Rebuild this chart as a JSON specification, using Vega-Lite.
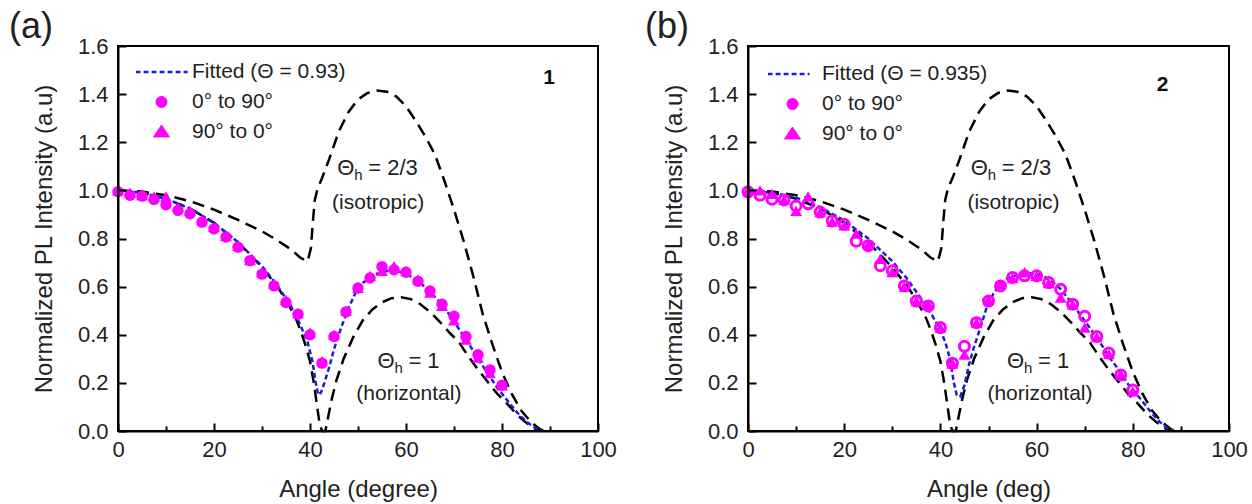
{
  "$schema": "https://vega.github.io/schema/vega-lite/v6.json",
  "padding": {"left": 8, "top": 8, "right": 2, "bottom": 2},
  "spacing": 26,
  "config": {
    "font": "Liberation Sans",
    "view": {"stroke": "black", "strokeWidth": 2},
    "axis": {
      "domain": true, "domainColor": "black", "domainWidth": 2, "ticks": true, "tickColor": "black", "tickWidth": 2,
      "labelFontSize": 22, "labelColor": "#222", "titleFontSize": 24, "titleFontWeight": "normal",
      "titleColor": "#222", "grid": false, "labelFlush": false
    },
    "title": {"fontSize": 36, "fontWeight": "normal", "color": "#222", "anchor": "start", "frame": "group"},
    "legend": {"padding": 0}
  },
  "resolve": {"scale": {"color": "independent"}, "legend": {"color": "independent"}},
  "datasets": {
    "iso": [
      {"angle": 0, "intensity": 1.0}, {"angle": 5, "intensity": 0.995}, {"angle": 10, "intensity": 0.98},
      {"angle": 15, "intensity": 0.955}, {"angle": 20, "intensity": 0.92}, {"angle": 25, "intensity": 0.877},
      {"angle": 30, "intensity": 0.83}, {"angle": 33, "intensity": 0.795}, {"angle": 36, "intensity": 0.755},
      {"angle": 38, "intensity": 0.72}, {"angle": 39.5, "intensity": 0.705}, {"angle": 40.2, "intensity": 0.76},
      {"angle": 40.6, "intensity": 0.87}, {"angle": 41, "intensity": 0.96}, {"angle": 41.6, "intensity": 1.01},
      {"angle": 42.5, "intensity": 1.05}, {"angle": 44, "intensity": 1.13}, {"angle": 46, "intensity": 1.245},
      {"angle": 48, "intensity": 1.325}, {"angle": 50, "intensity": 1.378}, {"angle": 52, "intensity": 1.405},
      {"angle": 54, "intensity": 1.415}, {"angle": 56, "intensity": 1.41}, {"angle": 58, "intensity": 1.39},
      {"angle": 60, "intensity": 1.35}, {"angle": 62, "intensity": 1.29}, {"angle": 64, "intensity": 1.225},
      {"angle": 66, "intensity": 1.15}, {"angle": 68, "intensity": 1.04}, {"angle": 70, "intensity": 0.92},
      {"angle": 72, "intensity": 0.79}, {"angle": 74, "intensity": 0.645}, {"angle": 76, "intensity": 0.485},
      {"angle": 78, "intensity": 0.36}, {"angle": 80, "intensity": 0.245}, {"angle": 82, "intensity": 0.155},
      {"angle": 84, "intensity": 0.085}, {"angle": 86, "intensity": 0.038}, {"angle": 88, "intensity": 0.006},
      {"angle": 89, "intensity": 0}
    ],
    "hor": [
      {"angle": 0, "intensity": 1.0}, {"angle": 5, "intensity": 0.99}, {"angle": 10, "intensity": 0.965},
      {"angle": 15, "intensity": 0.925}, {"angle": 20, "intensity": 0.865}, {"angle": 25, "intensity": 0.785},
      {"angle": 30, "intensity": 0.68}, {"angle": 33, "intensity": 0.605}, {"angle": 35, "intensity": 0.545},
      {"angle": 37, "intensity": 0.47}, {"angle": 38, "intensity": 0.42}, {"angle": 39, "intensity": 0.36},
      {"angle": 40, "intensity": 0.29}, {"angle": 40.8, "intensity": 0.2}, {"angle": 41.5, "intensity": 0.1},
      {"angle": 42, "intensity": 0.03}, {"angle": 42.5, "intensity": 0}, {"angle": 43.2, "intensity": 0},
      {"angle": 43.8, "intensity": 0.06}, {"angle": 44.5, "intensity": 0.13}, {"angle": 45.5, "intensity": 0.21},
      {"angle": 47, "intensity": 0.3}, {"angle": 49, "intensity": 0.39}, {"angle": 51, "intensity": 0.46},
      {"angle": 53, "intensity": 0.505}, {"angle": 55, "intensity": 0.535}, {"angle": 57, "intensity": 0.552},
      {"angle": 59, "intensity": 0.556}, {"angle": 61, "intensity": 0.548}, {"angle": 63, "intensity": 0.527},
      {"angle": 65, "intensity": 0.495}, {"angle": 67, "intensity": 0.455}, {"angle": 69, "intensity": 0.41},
      {"angle": 71, "intensity": 0.37}, {"angle": 73, "intensity": 0.31}, {"angle": 75, "intensity": 0.255},
      {"angle": 77, "intensity": 0.205}, {"angle": 79, "intensity": 0.155}, {"angle": 81, "intensity": 0.115},
      {"angle": 83, "intensity": 0.07}, {"angle": 85, "intensity": 0.035}, {"angle": 87, "intensity": 0.008},
      {"angle": 88.5, "intensity": 0}
    ],
    "fitA": [
      {"angle": 0, "intensity": 1.0}, {"angle": 5, "intensity": 0.99}, {"angle": 10, "intensity": 0.965},
      {"angle": 15, "intensity": 0.925}, {"angle": 20, "intensity": 0.865}, {"angle": 25, "intensity": 0.785},
      {"angle": 30, "intensity": 0.685}, {"angle": 33, "intensity": 0.61}, {"angle": 36, "intensity": 0.52},
      {"angle": 38, "intensity": 0.44}, {"angle": 39.5, "intensity": 0.37}, {"angle": 40.5, "intensity": 0.29},
      {"angle": 41.2, "intensity": 0.2}, {"angle": 41.7, "intensity": 0.15}, {"angle": 42.3, "intensity": 0.16},
      {"angle": 43, "intensity": 0.2}, {"angle": 44, "intensity": 0.265}, {"angle": 45, "intensity": 0.34},
      {"angle": 46.5, "intensity": 0.43}, {"angle": 48, "intensity": 0.51}, {"angle": 49.5, "intensity": 0.575},
      {"angle": 51, "intensity": 0.615}, {"angle": 53, "intensity": 0.645}, {"angle": 55, "intensity": 0.662},
      {"angle": 57, "intensity": 0.668}, {"angle": 59, "intensity": 0.66}, {"angle": 61, "intensity": 0.642},
      {"angle": 63, "intensity": 0.615}, {"angle": 65, "intensity": 0.58}, {"angle": 67, "intensity": 0.535},
      {"angle": 69, "intensity": 0.485}, {"angle": 71, "intensity": 0.425}, {"angle": 73, "intensity": 0.365},
      {"angle": 75, "intensity": 0.3}, {"angle": 77, "intensity": 0.24}, {"angle": 79, "intensity": 0.18},
      {"angle": 81, "intensity": 0.13}, {"angle": 83, "intensity": 0.08}, {"angle": 85, "intensity": 0.04},
      {"angle": 87, "intensity": 0.012}, {"angle": 88.5, "intensity": 0}
    ],
    "fitB": [
      {"angle": 0, "intensity": 1.0}, {"angle": 5, "intensity": 0.99}, {"angle": 10, "intensity": 0.97},
      {"angle": 15, "intensity": 0.93}, {"angle": 20, "intensity": 0.875}, {"angle": 25, "intensity": 0.8},
      {"angle": 30, "intensity": 0.705}, {"angle": 33, "intensity": 0.635}, {"angle": 36, "intensity": 0.55},
      {"angle": 38, "intensity": 0.49}, {"angle": 40, "intensity": 0.42}, {"angle": 41, "intensity": 0.37},
      {"angle": 42, "intensity": 0.3}, {"angle": 42.8, "intensity": 0.2}, {"angle": 43.4, "intensity": 0.15},
      {"angle": 44.1, "intensity": 0.143}, {"angle": 45, "intensity": 0.19}, {"angle": 46, "intensity": 0.28},
      {"angle": 47, "intensity": 0.35}, {"angle": 48.5, "intensity": 0.44}, {"angle": 49.6, "intensity": 0.513},
      {"angle": 51, "intensity": 0.57}, {"angle": 52.4, "intensity": 0.611}, {"angle": 54, "intensity": 0.635},
      {"angle": 56.5, "intensity": 0.652}, {"angle": 58.5, "intensity": 0.656}, {"angle": 60.7, "intensity": 0.65},
      {"angle": 63, "intensity": 0.625}, {"angle": 65, "intensity": 0.59}, {"angle": 67, "intensity": 0.54},
      {"angle": 69, "intensity": 0.485}, {"angle": 71, "intensity": 0.43}, {"angle": 73, "intensity": 0.375},
      {"angle": 75, "intensity": 0.31}, {"angle": 77.3, "intensity": 0.248}, {"angle": 79, "intensity": 0.195},
      {"angle": 81.5, "intensity": 0.136}, {"angle": 83.5, "intensity": 0.085}, {"angle": 85.6, "intensity": 0.038},
      {"angle": 87, "intensity": 0.015}, {"angle": 88.4, "intensity": 0}
    ],
    "ptsA": [
      {"angle": 0, "up": 0.994, "down": 1.0}, {"angle": 2.5, "up": 0.98, "down": 0.99},
      {"angle": 5, "up": 0.976, "down": 0.98}, {"angle": 7.5, "up": 0.962, "down": 0.975},
      {"angle": 10, "up": 0.94, "down": 0.975}, {"angle": 12.5, "up": 0.917, "down": 0.93},
      {"angle": 15, "up": 0.903, "down": 0.915}, {"angle": 17.5, "up": 0.868, "down": 0.875},
      {"angle": 20, "up": 0.84, "down": 0.848}, {"angle": 22.5, "up": 0.806, "down": 0.81},
      {"angle": 25, "up": 0.764, "down": 0.77}, {"angle": 27.5, "up": 0.708, "down": 0.71},
      {"angle": 30, "up": 0.652, "down": 0.66}, {"angle": 32.5, "up": 0.603, "down": 0.61},
      {"angle": 35, "up": 0.534, "down": 0.545}, {"angle": 37.5, "up": 0.485, "down": 0.49},
      {"angle": 40, "up": 0.4, "down": 0.41}, {"angle": 42.5, "up": 0.282, "down": 0.29},
      {"angle": 45, "up": 0.393, "down": 0.4}, {"angle": 47.5, "up": 0.495, "down": 0.5},
      {"angle": 50, "up": 0.594, "down": 0.595}, {"angle": 52.5, "up": 0.636, "down": 0.645},
      {"angle": 55, "up": 0.683, "down": 0.665}, {"angle": 57.5, "up": 0.67, "down": 0.685},
      {"angle": 60, "up": 0.66, "down": 0.665}, {"angle": 62.5, "up": 0.622, "down": 0.63},
      {"angle": 65, "up": 0.582, "down": 0.575}, {"angle": 67.5, "up": 0.527, "down": 0.52},
      {"angle": 70, "up": 0.477, "down": 0.46}, {"angle": 72.5, "up": 0.393, "down": 0.38},
      {"angle": 75, "up": 0.317, "down": 0.305}, {"angle": 77.5, "up": 0.254, "down": 0.24},
      {"angle": 80, "up": 0.19, "down": 0.19}
    ],
    "ptsB": [
      {"angle": 0, "up": 0.994, "down": 1.0}, {"angle": 2.5, "up": 0.98, "down": 1.0},
      {"angle": 5, "up": 0.963, "down": 0.985}, {"angle": 7.5, "up": 0.96, "down": 0.96},
      {"angle": 10, "up": 0.935, "down": 0.915}, {"angle": 12.5, "up": 0.944, "down": 0.975},
      {"angle": 15, "up": 0.91, "down": 0.91}, {"angle": 17.5, "up": 0.873, "down": 0.87},
      {"angle": 20, "up": 0.859, "down": 0.855}, {"angle": 22.5, "up": 0.789, "down": 0.82},
      {"angle": 25, "up": 0.77, "down": 0.775}, {"angle": 27.5, "up": 0.687, "down": 0.715},
      {"angle": 30, "up": 0.666, "down": 0.66}, {"angle": 32.5, "up": 0.603, "down": 0.6},
      {"angle": 35, "up": 0.54, "down": 0.54}, {"angle": 37.5, "up": 0.52, "down": 0.525},
      {"angle": 40, "up": 0.43, "down": 0.43}, {"angle": 42.5, "up": 0.282, "down": 0.28},
      {"angle": 45, "up": 0.352, "down": 0.317}, {"angle": 47.5, "up": 0.45, "down": 0.45},
      {"angle": 50, "up": 0.54, "down": 0.545}, {"angle": 52.5, "up": 0.603, "down": 0.61},
      {"angle": 55, "up": 0.638, "down": 0.635}, {"angle": 57.5, "up": 0.645, "down": 0.66},
      {"angle": 60, "up": 0.645, "down": 0.645}, {"angle": 62.5, "up": 0.617, "down": 0.615},
      {"angle": 65, "up": 0.589, "down": 0.554}, {"angle": 67.5, "up": 0.527, "down": 0.525},
      {"angle": 70, "up": 0.477, "down": 0.43}, {"angle": 72.5, "up": 0.393, "down": 0.39},
      {"angle": 75, "up": 0.324, "down": 0.32}, {"angle": 77.5, "up": 0.233, "down": 0.235},
      {"angle": 80, "up": 0.17, "down": 0.165}
    ]
  },
  "hconcat": [
    {
      "width": 480, "height": 385,
      "title": {"text": "(a)", "dx": -109, "offset": -11},
      "layer": [
        {
          "data": {"name": "iso"},
          "mark": {"type": "line", "color": "black", "strokeDash": [12, 7], "strokeWidth": 2.5},
          "encoding": {
            "x": {"field": "angle", "type": "quantitative", "scale": {"domain": [0, 100]},
              "axis": {"title": "Angle (degree)", "values": [0,10,20,30,40,50,60,70,80,90,100],
                "labelExpr": "datum.value % 20 == 0 ? datum.label : ''",
                "domain": true, "domainColor": "black", "domainWidth": 2, "domainOpacity": 1,
                "ticks": true, "tickColor": "black", "tickWidth": 2, "tickOpacity": 1, "zindex": 1,
                "tickSize": {"condition": {"test": "datum.value % 20 == 0", "value": -8}, "value": -5},
                "labelPadding": 16, "titlePadding": 17}},
            "y": {"field": "intensity", "type": "quantitative", "scale": {"domain": [0, 1.6]},
              "axis": {"title": "Normalized PL Intensity (a.u)", "values": [0,0.1,0.2,0.3,0.4,0.5,0.6,0.7,0.8,0.9,1.0,1.1,1.2,1.3,1.4,1.5,1.6],
                "labelExpr": "round(datum.value*10) % 2 == 0 ? format(datum.value, '.1f') : ''",
                "domain": true, "domainColor": "black", "domainWidth": 2, "domainOpacity": 1,
                "ticks": true, "tickColor": "black", "tickWidth": 2, "tickOpacity": 1, "zindex": 1,
                "tickSize": {"condition": {"test": "round(datum.value*10) % 2 == 0", "value": -8}, "value": -5},
                "labelPadding": 18, "titlePadding": 21}}
          }
        },
        {
          "data": {"name": "hor"},
          "mark": {"type": "line", "color": "black", "strokeDash": [12, 7], "strokeWidth": 2.5},
          "encoding": {"x": {"field": "angle", "type": "quantitative"}, "y": {"field": "intensity", "type": "quantitative"}}
        },
        {
          "data": {"name": "fitA"},
          "mark": {"type": "line", "strokeDash": [5, 3], "strokeWidth": 2.5},
          "encoding": {
            "x": {"field": "angle", "type": "quantitative"}, "y": {"field": "intensity", "type": "quantitative"},
            "color": {"datum": "Fitted (Θ = 0.93)", "type": "nominal",
              "scale": {"domain": ["Fitted (Θ = 0.93)", "0° to 90°", "90° to 0°"], "range": ["#1c1cd8", "#ff00ff", "#ff00ff"]},
              "legend": {"orient": "none", "legendX": 18, "legendY": 15, "title": null,
                "labelFontSize": 21, "labelColor": "#222", "labelLimit": 300, "symbolSize": 2704, "clipHeight": 22,
                "labelOffset": 35, "rowPadding": 8,
                "encode": {"symbols": {"update": {
                  "shape": {"signal": "datum.index == 0 ? 'M -0.42 0 L 1.58 0' : datum.index == 1 ? 'M 0.367 0 A 0.21 0.21 0 1 0 0.787 0 A 0.21 0.21 0 1 0 0.367 0 Z' : 'M 0.577 -0.27 L 0.887 0.19 L 0.267 0.19 Z'"},
                  "size": {"value": 2704},
                  "fill": {"signal": "datum.index == 0 ? 'transparent' : '#ff00ff'"},
                  "stroke": {"signal": "datum.index == 0 ? '#1c1cd8' : '#ff00ff'"},
                  "strokeDash": {"signal": "datum.index == 0 ? [5, 3] : [1, 0]"},
                  "strokeWidth": {"signal": "datum.index == 0 ? 2.5 : 1"},
                  "opacity": {"value": 1}
                }}}}}
          }
        },
        {
          "data": {"name": "ptsA"},
          "mark": {"type": "point", "shape": "triangle-up", "filled": true, "size": 140, "opacity": 1},
          "encoding": {"x": {"field": "angle", "type": "quantitative"}, "y": {"field": "down", "type": "quantitative"},
            "color": {"datum": "90° to 0°", "type": "nominal"}}
        },
        {
          "data": {"name": "ptsA"},
          "mark": {"type": "point", "shape": "circle", "filled": true, "size": 130, "opacity": 1, "strokeWidth": 1.5},
          "encoding": {"x": {"field": "angle", "type": "quantitative"}, "y": {"field": "up", "type": "quantitative"},
            "color": {"datum": "0° to 90°", "type": "nominal"}}
        },
        {"data": {"values": [{}]}, "mark": {"type": "rule", "color": "black", "strokeWidth": 2}, "encoding": {"y": {"datum": 1.6}}},
        {"data": {"values": [{}]}, "mark": {"type": "rule", "color": "black", "strokeWidth": 2}, "encoding": {"x": {"datum": 100}}},
        {"data": {"values": [{}]}, "mark": {"type": "rule", "color": "black", "strokeWidth": 2}, "encoding": {"y": {"datum": 0}}},
        {"data": {"values": [{}]}, "mark": {"type": "rule", "color": "black", "strokeWidth": 2}, "encoding": {"x": {"datum": 0}}},
        {"data": {"values": [{}]}, "mark": {"type": "text", "text": "Θ", "align": "left", "dx": -40, "fontSize": 22, "color": "#222"},
          "encoding": {"x": {"datum": 54}, "y": {"datum": 1.093}}},
        {"data": {"values": [{}]}, "mark": {"type": "text", "text": "h", "align": "left", "dx": -23, "dy": 7, "fontSize": 15, "color": "#222"},
          "encoding": {"x": {"datum": 54}, "y": {"datum": 1.093}}},
        {"data": {"values": [{}]}, "mark": {"type": "text", "text": "= 2/3", "align": "left", "dx": -9, "fontSize": 22, "color": "#222"},
          "encoding": {"x": {"datum": 54}, "y": {"datum": 1.093}}},
        {"data": {"values": [{}]}, "mark": {"type": "text", "text": "(isotropic)", "align": "center", "fontSize": 21, "color": "#222"},
          "encoding": {"x": {"datum": 54.2}, "y": {"datum": 0.948}}},
        {"data": {"values": [{}]}, "mark": {"type": "text", "text": "Θ", "align": "left", "dx": -31, "fontSize": 22, "color": "#222"},
          "encoding": {"x": {"datum": 60.5}, "y": {"datum": 0.29}}},
        {"data": {"values": [{}]}, "mark": {"type": "text", "text": "h", "align": "left", "dx": -14, "dy": 7, "fontSize": 15, "color": "#222"},
          "encoding": {"x": {"datum": 60.5}, "y": {"datum": 0.29}}},
        {"data": {"values": [{}]}, "mark": {"type": "text", "text": "= 1", "align": "left", "dx": 0, "fontSize": 22, "color": "#222"},
          "encoding": {"x": {"datum": 60.5}, "y": {"datum": 0.29}}},
        {"data": {"values": [{}]}, "mark": {"type": "text", "text": "(horizontal)", "align": "center", "fontSize": 21, "color": "#222"},
          "encoding": {"x": {"datum": 60.6}, "y": {"datum": 0.153}}},
        {"data": {"values": [{}]}, "mark": {"type": "text", "text": "1", "align": "center", "fontSize": 21, "fontWeight": "bold", "color": "#111"},
          "encoding": {"x": {"datum": 89.8}, "y": {"datum": 1.466}}}
      ]
    },
    {
      "width": 481, "height": 385,
      "title": {"text": "(b)", "dx": -103, "offset": -11},
      "layer": [
        {
          "data": {"name": "iso"},
          "mark": {"type": "line", "color": "black", "strokeDash": [12, 7], "strokeWidth": 2.5},
          "encoding": {
            "x": {"field": "angle", "type": "quantitative", "scale": {"domain": [0, 100]},
              "axis": {"title": "Angle (deg)", "values": [0,10,20,30,40,50,60,70,80,90,100],
                "labelExpr": "datum.value % 20 == 0 ? datum.label : ''",
                "domain": true, "domainColor": "black", "domainWidth": 2, "domainOpacity": 1,
                "ticks": true, "tickColor": "black", "tickWidth": 2, "tickOpacity": 1, "zindex": 1,
                "tickSize": {"condition": {"test": "datum.value % 20 == 0", "value": -8}, "value": -5},
                "labelPadding": 16, "titlePadding": 17}},
            "y": {"field": "intensity", "type": "quantitative", "scale": {"domain": [0, 1.6]},
              "axis": {"title": "Normalized PL Intensity (a.u)", "values": [0,0.1,0.2,0.3,0.4,0.5,0.6,0.7,0.8,0.9,1.0,1.1,1.2,1.3,1.4,1.5,1.6],
                "labelExpr": "round(datum.value*10) % 2 == 0 ? format(datum.value, '.1f') : ''",
                "domain": true, "domainColor": "black", "domainWidth": 2, "domainOpacity": 1,
                "ticks": true, "tickColor": "black", "tickWidth": 2, "tickOpacity": 1, "zindex": 1,
                "tickSize": {"condition": {"test": "round(datum.value*10) % 2 == 0", "value": -8}, "value": -5},
                "labelPadding": 18, "titlePadding": 21}}
          }
        },
        {
          "data": {"name": "hor"},
          "mark": {"type": "line", "color": "black", "strokeDash": [12, 7], "strokeWidth": 2.5},
          "encoding": {"x": {"field": "angle", "type": "quantitative"}, "y": {"field": "intensity", "type": "quantitative"}}
        },
        {
          "data": {"name": "fitB"},
          "mark": {"type": "line", "strokeDash": [5, 3], "strokeWidth": 2.5},
          "encoding": {
            "x": {"field": "angle", "type": "quantitative"}, "y": {"field": "intensity", "type": "quantitative"},
            "color": {"datum": "Fitted (Θ = 0.935)", "type": "nominal",
              "scale": {"domain": ["Fitted (Θ = 0.935)", "0° to 90°", "90° to 0°"], "range": ["#1c1cd8", "#ff00ff", "#ff00ff"]},
              "legend": {"orient": "none", "legendX": 20, "legendY": 17, "title": null,
                "labelFontSize": 21, "labelColor": "#222", "labelLimit": 300, "symbolSize": 2704, "clipHeight": 22,
                "labelOffset": 33, "rowPadding": 8,
                "encode": {"symbols": {"update": {
                  "shape": {"signal": "datum.index == 0 ? 'M -0.42 0 L 1.19 0' : datum.index == 1 ? 'M 0.368 0 A 0.17 0.17 0 1 0 0.708 0 A 0.17 0.17 0 1 0 0.368 0 Z' : 'M 0.538 -0.27 L 0.848 0.19 L 0.228 0.19 Z'"},
                  "size": {"value": 2704},
                  "fill": {"signal": "datum.index == 0 ? 'transparent' : datum.index == 1 ? 'white' : '#ff00ff'"},
                  "stroke": {"signal": "datum.index == 0 ? '#1c1cd8' : '#ff00ff'"},
                  "strokeDash": {"signal": "datum.index == 0 ? [5, 3] : [1, 0]"},
                  "strokeWidth": {"signal": "datum.index == 0 ? 2.5 : datum.index == 1 ? 3 : 1"},
                  "opacity": {"value": 1}
                }}}}}
          }
        },
        {
          "data": {"name": "ptsB"},
          "mark": {"type": "point", "shape": "triangle-up", "filled": true, "size": 140, "opacity": 1},
          "encoding": {"x": {"field": "angle", "type": "quantitative"}, "y": {"field": "down", "type": "quantitative"},
            "color": {"datum": "90° to 0°", "type": "nominal"}}
        },
        {
          "data": {"name": "ptsB"},
          "mark": {"type": "point", "shape": "circle", "filled": false, "fill": "white", "fillOpacity": 0, "size": 100, "opacity": 1, "strokeWidth": 3},
          "encoding": {"x": {"field": "angle", "type": "quantitative"}, "y": {"field": "up", "type": "quantitative"},
            "color": {"datum": "0° to 90°", "type": "nominal"}}
        },
        {"data": {"values": [{}]}, "mark": {"type": "rule", "color": "black", "strokeWidth": 2}, "encoding": {"y": {"datum": 1.6}}},
        {"data": {"values": [{}]}, "mark": {"type": "rule", "color": "black", "strokeWidth": 2}, "encoding": {"x": {"datum": 100}}},
        {"data": {"values": [{}]}, "mark": {"type": "rule", "color": "black", "strokeWidth": 2}, "encoding": {"y": {"datum": 0}}},
        {"data": {"values": [{}]}, "mark": {"type": "rule", "color": "black", "strokeWidth": 2}, "encoding": {"x": {"datum": 0}}},
        {"data": {"values": [{}]}, "mark": {"type": "text", "text": "Θ", "align": "left", "dx": -40, "fontSize": 22, "color": "#222"},
          "encoding": {"x": {"datum": 54.6}, "y": {"datum": 1.093}}},
        {"data": {"values": [{}]}, "mark": {"type": "text", "text": "h", "align": "left", "dx": -23, "dy": 7, "fontSize": 15, "color": "#222"},
          "encoding": {"x": {"datum": 54.6}, "y": {"datum": 1.093}}},
        {"data": {"values": [{}]}, "mark": {"type": "text", "text": "= 2/3", "align": "left", "dx": -9, "fontSize": 22, "color": "#222"},
          "encoding": {"x": {"datum": 54.6}, "y": {"datum": 1.093}}},
        {"data": {"values": [{}]}, "mark": {"type": "text", "text": "(isotropic)", "align": "center", "fontSize": 21, "color": "#222"},
          "encoding": {"x": {"datum": 55.2}, "y": {"datum": 0.948}}},
        {"data": {"values": [{}]}, "mark": {"type": "text", "text": "Θ", "align": "left", "dx": -31, "fontSize": 22, "color": "#222"},
          "encoding": {"x": {"datum": 60.3}, "y": {"datum": 0.29}}},
        {"data": {"values": [{}]}, "mark": {"type": "text", "text": "h", "align": "left", "dx": -14, "dy": 7, "fontSize": 15, "color": "#222"},
          "encoding": {"x": {"datum": 60.3}, "y": {"datum": 0.29}}},
        {"data": {"values": [{}]}, "mark": {"type": "text", "text": "= 1", "align": "left", "dx": 0, "fontSize": 22, "color": "#222"},
          "encoding": {"x": {"datum": 60.3}, "y": {"datum": 0.29}}},
        {"data": {"values": [{}]}, "mark": {"type": "text", "text": "(horizontal)", "align": "center", "fontSize": 21, "color": "#222"},
          "encoding": {"x": {"datum": 60.7}, "y": {"datum": 0.153}}},
        {"data": {"values": [{}]}, "mark": {"type": "text", "text": "2", "align": "center", "fontSize": 21, "fontWeight": "bold", "color": "#111"},
          "encoding": {"x": {"datum": 86.2}, "y": {"datum": 1.437}}}
      ]
    }
  ]
}
